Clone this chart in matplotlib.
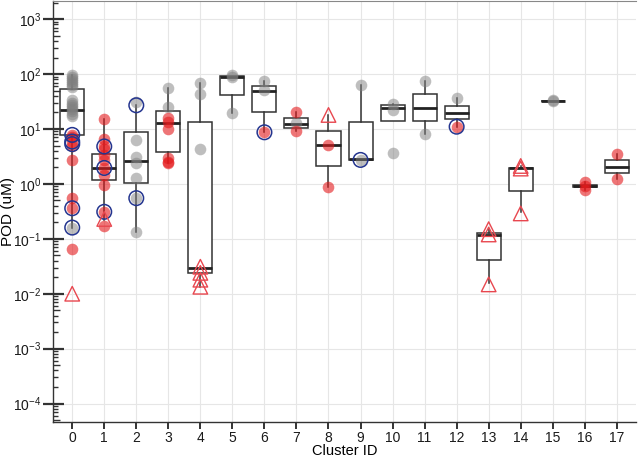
import matplotlib
matplotlib.use("Agg")
import matplotlib.pyplot as plt
import matplotlib.ticker as mticker
import numpy as np

plt.rcParams['font.family'] = ['Liberation Sans', 'DejaVu Sans']
plt.rcParams['mathtext.fontset'] = 'custom'
plt.rcParams['mathtext.rm'] = 'Liberation Sans'
plt.rcParams['mathtext.it'] = 'Liberation Sans:italic'
plt.rcParams['mathtext.bf'] = 'Liberation Sans:bold'

clusters = [str(i) for i in range(18)]

# box statistics (uM)
box_q1  = [7.8, 1.18, 1.03, 3.87, 0.0234, 41.9, 20.7, 10.6, 2.12, 2.73, 14.0, 14.0, 15.0, 0.041, 0.74, 32.4, 0.88, 1.56]
box_med = [22.0, 1.97, 2.6, 12.7, 0.030, 90.0, 50.0, 12.4, 5.1, 2.8, 24.5, 24.5, 19.9, 0.117, 1.92, 32.4, 0.92, 2.06]
box_q3  = [53.0, 3.46, 8.9, 21.6, 13.6, 93.0, 61.0, 15.7, 9.3, 13.3, 27.4, 43.0, 26.6, 0.126, 1.95, 32.4, 0.95, 2.73]
box_lo  = [0.16, 0.22, 0.134, 2.4, 0.0134, 19.9, 8.7, 9.2, 0.89, 2.73, 14.0, 8.1, 11.0, 0.0154, 0.31, 32.4, 0.77, 1.21]
box_hi  = [97.0, 15.0, 27.0, 55.0, 70.0, 93.0, 76.0, 20.7, 18.0, 63.5, 28.3, 76.0, 36.3, 0.15, 2.12, 32.4, 1.1, 3.5]

gray_pts = [
    [95, 88, 82, 76, 70, 64, 58, 33, 30, 27, 25, 23, 21, 19, 17, 0.16],
    [],
    [31, 6.3, 3.1, 2.4, 1.3, 0.55, 0.134],
    [55, 25.5],
    [70, 43, 4.3],
    [97, 90, 19.9],
    [76, 51],
    [12.7],
    [],
    [63.5, 2.73],
    [28.3, 22.3, 3.6],
    [76, 8.1],
    [36.3],
    [],
    [],
    [33, 32],
    [],
    [],
]
red_pts = [
    [7.9, 7.2, 5.9, 4.8, 2.7, 0.56, 0.36, 0.064],
    [15, 6.6, 4.9, 4.3, 3.4, 2.7, 1.97, 1.45, 0.95, 0.31, 0.173],
    [],
    [15.7, 13.6, 9.9, 2.9, 2.5, 2.4],
    [], [], [8.7], [20.7, 9.2], [5.1, 0.89], [], [], [], [11],
    [], [], [], [1.1, 0.92, 0.77], [3.5, 1.21],
]
blue_pts = [
    [7.8, 5.9, 5.3, 0.36, 0.16],
    [4.8, 1.95, 0.31],
    [27, 0.55],
    [], [], [], [8.7], [], [], [2.73], [], [], [11],
    [], [], [], [], [],
]
tri_pts = [
    [0.01], [0.23], [], [], [0.031, 0.024, 0.018, 0.0134], [], [], [], [18], [],
    [], [], [], [0.15, 0.12, 0.0148], [2.12, 1.9, 0.29], [], [], [],
]

fig = plt.figure(figsize=(6.4, 4.59), dpi=100)
ax = fig.add_axes([0.0828, 0.0813, 0.911, 0.9165])
ax.set_yscale('log')

pos = np.arange(len(clusters))
stats = []
for i in range(len(clusters)):
    stats.append(dict(q1=box_q1[i], med=box_med[i], q3=box_q3[i],
                      whislo=box_lo[i], whishi=box_hi[i], fliers=[]))
edge = '#333333'
ax.bxp(stats, positions=pos, widths=0.75, showfliers=False, showcaps=False,
       patch_artist=True,
       boxprops=dict(facecolor='white', edgecolor=edge, linewidth=1.1),
       medianprops=dict(color='#222222', linewidth=2.0),
       whiskerprops=dict(color=edge, linewidth=1.1),
       manage_ticks=False, zorder=2)

def pts(lists):
    xs, ys = [], []
    for i, vals in enumerate(lists):
        for v in vals:
            xs.append(pos[i]); ys.append(v)
    return xs, ys

gx, gy = pts(gray_pts)
ax.scatter(gx, gy, s=70, color='#7F7F7F', alpha=0.5, linewidths=0, zorder=3)
rx, ry = pts(red_pts)
ax.scatter(rx, ry, s=70, color='#E41A1C', alpha=0.6, linewidths=0, zorder=4)
bx, by = pts(blue_pts)
ax.scatter(bx, by, s=110, facecolors='none', edgecolors='#24358F', linewidths=1.1, zorder=5)
tx, ty = pts(tri_pts)
ax.scatter(tx, ty, s=110, marker='^', facecolors='none', edgecolors='#E8474F', linewidths=1.0, zorder=5)

ax.set_xlim(-0.6, 17.6)
ax.set_ylim(10**-4.33, 10**3.33)
ax.set_xticks(pos)
ax.set_xticklabels(clusters)

majors = [10.0**k for k in range(-4, 4)]
ax.yaxis.set_major_locator(mticker.FixedLocator(majors))
ax.yaxis.set_major_formatter(mticker.LogFormatterSciNotation())
minors = [m * 10.0**k for k in range(-5, 4) for m in (2, 3, 4, 6, 7, 8, 9)]
ax.yaxis.set_minor_locator(mticker.FixedLocator(minors))
ax.yaxis.set_minor_formatter(mticker.NullFormatter())

ax.tick_params(axis='y', which='major', direction='out', length=7, width=1.6, color=edge,
               labelsize=10, labelcolor='#1a1a1a', pad=1.5)
ax.tick_params(axis='y', which='minor', direction='in', length=3.5, width=1.0, color=edge)
ax.tick_params(axis='x', which='major', direction='out', length=5, width=1.4, color=edge,
               labelsize=10, labelcolor='#1a1a1a', pad=2)
ax.tick_params(axis='x', which='minor', bottom=False)

ytr = ax.get_yaxis_transform()
aw = 0.911 * 640
ax.hlines(majors, 0, 11 / aw, transform=ytr, color=edge, linewidth=1.6, zorder=6, clip_on=False)
fives = [5 * 10.0**k for k in range(-5, 4)]
fives = [f for f in fives if 10**-4.33 < f < 10**3.33]
ax.hlines(fives, 0, 7 / aw, transform=ytr, color=edge, linewidth=1.0, zorder=6)

ax.grid(True, which='major', color='#E6E6E6', linewidth=0.8, zorder=0)
ax.set_axisbelow(True)

ax.spines['right'].set_visible(False)
ax.spines['top'].set_color('#888888')
ax.spines['top'].set_linewidth(0.8)
for s in ('left', 'bottom'):
    ax.spines[s].set_color(edge)
    ax.spines[s].set_linewidth(1.0)

ah = 0.9165 * 459
ax.set_xlabel('Cluster ID', fontsize=10.5, va='center')
ax.xaxis.set_label_coords(0.5, -29.8 / ah)
ax.set_ylabel('POD (uM)', fontsize=11, va='center')
ax.yaxis.set_label_coords(-45 / aw, 0.5)

fig.savefig('out.png', dpi=100)
